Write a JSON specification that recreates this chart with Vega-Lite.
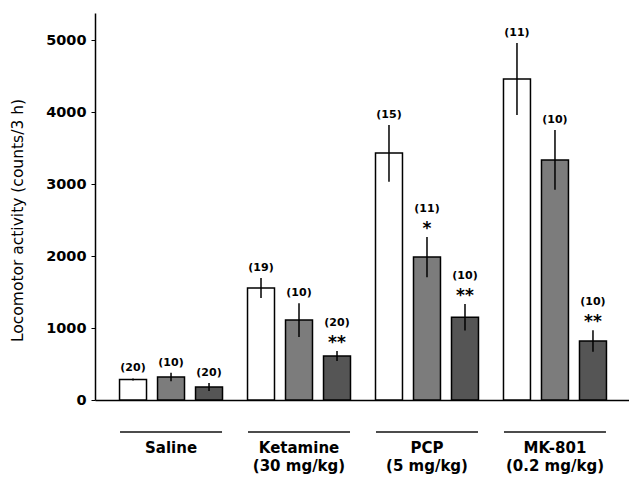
{
  "$schema": "https://vega.github.io/schema/vega-lite/v6.json",
  "width": 536,
  "height": 387,
  "autosize": "none",
  "padding": {"left": 95, "top": 13, "right": 0, "bottom": 77},
  "background": "white",
  "config": {
    "view": {"stroke": null},
    "font": "DejaVu Sans",
    "axis": {"domainColor": "black", "domainWidth": 1.5, "tickColor": "black", "labelColor": "black", "titleColor": "black", "grid": false}
  },
  "data": {
    "values": [
      {"drug": "Saline", "treatment": "Vehicle", "mean": 285, "lower": 270, "upper": 300, "n": "(20)", "sig": ""},
      {"drug": "Saline", "treatment": "Pretreatment 1", "mean": 320, "lower": 260, "upper": 380, "n": "(10)", "sig": ""},
      {"drug": "Saline", "treatment": "Pretreatment 2", "mean": 180, "lower": 125, "upper": 235, "n": "(20)", "sig": ""},
      {"drug": "Ketamine", "treatment": "Vehicle", "mean": 1555, "lower": 1415, "upper": 1695, "n": "(19)", "sig": ""},
      {"drug": "Ketamine", "treatment": "Pretreatment 1", "mean": 1110, "lower": 875, "upper": 1345, "n": "(10)", "sig": ""},
      {"drug": "Ketamine", "treatment": "Pretreatment 2", "mean": 610, "lower": 540, "upper": 680, "n": "(20)", "sig": "**"},
      {"drug": "PCP", "treatment": "Vehicle", "mean": 3430, "lower": 3030, "upper": 3820, "n": "(15)", "sig": ""},
      {"drug": "PCP", "treatment": "Pretreatment 1", "mean": 1985, "lower": 1705, "upper": 2265, "n": "(11)", "sig": "*"},
      {"drug": "PCP", "treatment": "Pretreatment 2", "mean": 1150, "lower": 965, "upper": 1335, "n": "(10)", "sig": "**"},
      {"drug": "MK-801", "treatment": "Vehicle", "mean": 4460, "lower": 3960, "upper": 4960, "n": "(11)", "sig": ""},
      {"drug": "MK-801", "treatment": "Pretreatment 1", "mean": 3335, "lower": 2920, "upper": 3750, "n": "(10)", "sig": ""},
      {"drug": "MK-801", "treatment": "Pretreatment 2", "mean": 820, "lower": 670, "upper": 970, "n": "(10)", "sig": "**"}
    ]
  },
  "encoding": {
    "x": {
      "field": "drug",
      "type": "nominal",
      "sort": ["Saline", "Ketamine", "PCP", "MK-801"],
      "scale": {"paddingInner": 0, "paddingOuter": 0.094},
      "axis": {
        "title": null,
        "ticks": false,
        "labelAngle": 0,
        "labelPadding": 40,
        "labelBaseline": "top",
        "labelFontSize": 15,
        "labelFontWeight": "bold",
        "labelLineHeight": 18,
        "labelExpr": "datum.value == 'Ketamine' ? ['Ketamine', '(30 mg/kg)'] : datum.value == 'PCP' ? ['PCP', '(5 mg/kg)'] : datum.value == 'MK-801' ? ['MK-801', '(0.2 mg/kg)'] : datum.value"
      }
    }
  },
  "layer": [
    {
      "mark": {"type": "bar", "stroke": "black", "strokeWidth": 1.5},
      "encoding": {
        "xOffset": {"field": "treatment", "type": "nominal", "sort": ["Vehicle", "Pretreatment 1", "Pretreatment 2"], "scale": {"paddingInner": 0.29, "paddingOuter": 0.329}},
        "y": {
          "field": "mean",
          "type": "quantitative",
          "scale": {"domain": [0, 5375], "nice": false},
          "axis": {
            "title": "Locomotor activity (counts/3 h)",
            "titleFontSize": 15.5,
            "titleFontWeight": "normal",
            "titlePadding": 20,
            "titleY": 207,
            "values": [0, 1000, 2000, 3000, 4000, 5000],
            "format": "d",
            "tickSize": 4,
            "labelPadding": 5,
            "labelFontSize": 14.5,
            "labelFontWeight": "bold"
          }
        },
        "fill": {
          "field": "treatment",
          "type": "nominal",
          "scale": {"domain": ["Vehicle", "Pretreatment 1", "Pretreatment 2"], "range": ["white", "#7c7c7c", "#555555"]},
          "legend": null
        }
      }
    },
    {
      "mark": {"type": "rule", "color": "black", "strokeWidth": 1.5},
      "encoding": {
        "xOffset": {"field": "treatment", "type": "nominal", "sort": ["Vehicle", "Pretreatment 1", "Pretreatment 2"]},
        "y": {"field": "lower", "type": "quantitative"},
        "y2": {"field": "upper"}
      }
    },
    {
      "transform": [{"filter": "datum.sig == ''"}],
      "mark": {"type": "text", "fontSize": 11, "fontWeight": "bold", "baseline": "middle", "dy": -10, "color": "black"},
      "encoding": {
        "xOffset": {"field": "treatment", "type": "nominal", "sort": ["Vehicle", "Pretreatment 1", "Pretreatment 2"]},
        "y": {"field": "upper", "type": "quantitative"},
        "text": {"field": "n"}
      }
    },
    {
      "transform": [{"filter": "datum.sig != ''"}],
      "mark": {"type": "text", "fontSize": 11, "fontWeight": "bold", "baseline": "middle", "dy": -28, "color": "black"},
      "encoding": {
        "xOffset": {"field": "treatment", "type": "nominal", "sort": ["Vehicle", "Pretreatment 1", "Pretreatment 2"]},
        "y": {"field": "upper", "type": "quantitative"},
        "text": {"field": "n"}
      }
    },
    {
      "transform": [{"filter": "datum.sig != ''"}],
      "mark": {"type": "text", "fontSize": 17, "fontWeight": "bold", "baseline": "middle", "dy": -8, "color": "black"},
      "encoding": {
        "xOffset": {"field": "treatment", "type": "nominal", "sort": ["Vehicle", "Pretreatment 1", "Pretreatment 2"]},
        "y": {"field": "upper", "type": "quantitative"},
        "text": {"field": "sig"}
      }
    },
    {
      "transform": [{"filter": "datum.treatment == 'Vehicle'"}],
      "mark": {"type": "tick", "color": "black", "size": 102, "thickness": 2, "orient": "horizontal"},
      "encoding": {
        "y": {"datum": -444}
      }
    }
  ]
}
